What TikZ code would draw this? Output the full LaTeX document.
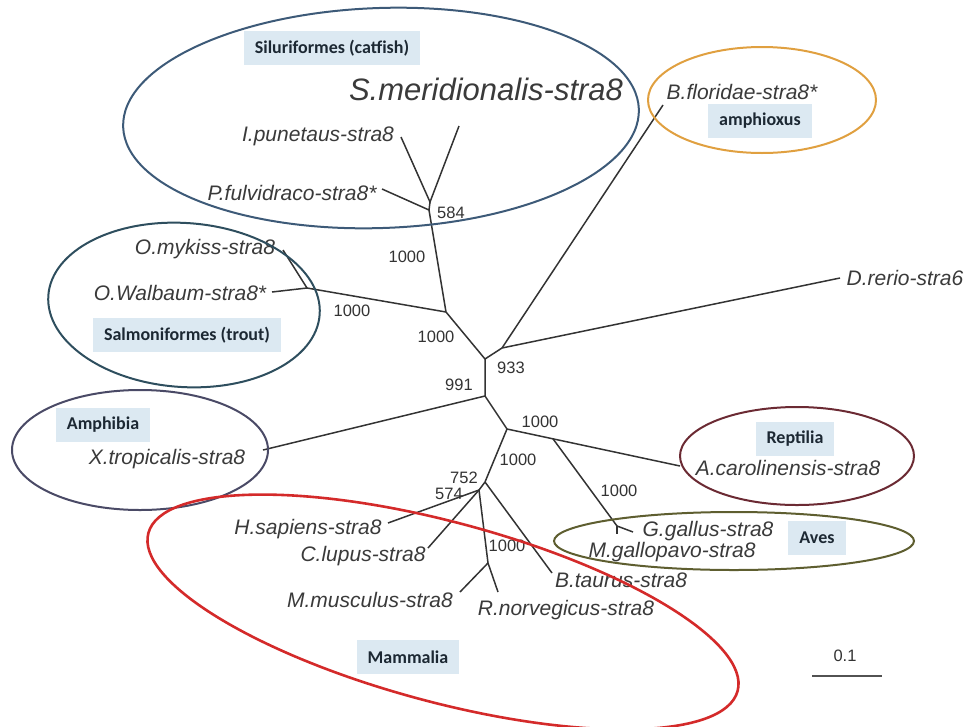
\documentclass[tikz,border=0pt]{standalone}
\usepackage{fontspec}
\setmainfont{Liberation Sans}
\newfontfamily\cladefont{Carlito}
\usetikzlibrary{calc}
\definecolor{ink}{HTML}{333333}
\definecolor{labink}{HTML}{3A3A3A}
\definecolor{cladefill}{HTML}{DCE9F2}
\definecolor{cladetext}{HTML}{1C2833}
\definecolor{catring}{HTML}{3D5A78}
\definecolor{salring}{HTML}{2E4E5E}
\definecolor{amphring}{HTML}{4A4A66}
\definecolor{lancring}{HTML}{E0A040}
\definecolor{reptring}{HTML}{6B2A33}
\definecolor{avesring}{HTML}{5E5E30}
\definecolor{mammring}{HTML}{D42A2A}
\begin{document}
\begin{tikzpicture}[x=1pt,y=-1pt,
  branch/.style={draw=ink, line width=1.5pt},
  taxon/.style={text=labink, font=\itshape\fontsize{21}{24}\selectfont, inner sep=0pt},
  bigtaxon/.style={text=labink, font=\itshape\fontsize{31}{34}\selectfont, inner sep=0pt},
  support/.style={text=ink, font=\fontsize{16.5}{18}\selectfont, inner sep=0pt},
  clade/.style={fill=cladefill, text=cladetext, font=\cladefont\bfseries\fontsize{18}{20}\selectfont, inner xsep=11pt, minimum height=34pt},
  ring/.style={line width=2pt}
]
\useasboundingbox (0,0) rectangle (969,726);

% clade name boxes
\node[clade] (lblcat) at (332,48) {Siluriformes (catfish)};
\node[clade] (lbllanc) at (760,121) {amphioxus};
\node[clade] (lblsal) at (187,335) {Salmoniformes (trout)};
\node[clade] (lblamph) at (103,425) {Amphibia};
\node[clade] (lblrept) at (795,439) {Reptilia};
\node[clade] (lblaves) at (817,538) {Aves};
\node[clade] (lblmamm) at (408,657) {Mammalia};

% tree nodes and tip ends
\coordinate (cA) at (430,202);
\coordinate (cB) at (429,210);
\coordinate (w) at (446,312);
\coordinate (s) at (307,288);
\coordinate (A) at (485,359);
\coordinate (B) at (502,348);
\coordinate (n991) at (485,396);
\coordinate (R) at (507,429);
\coordinate (m752) at (485,482);
\coordinate (m574) at (479,490);
\coordinate (rod) at (488,563);
\coordinate (F) at (617,526);

\coordinate (eipun) at (401,137);
\coordinate (esmer) at (459,126);
\coordinate (epful) at (382,189);
\coordinate (eomyk) at (283,250);
\coordinate (eowal) at (272,292);
\coordinate (ebflo) at (663,105);
\coordinate (edrer) at (840,278);
\coordinate (extro) at (263,450);
\coordinate (eacar) at (680,466);
\coordinate (eggal) at (633,532);
\coordinate (emgal) at (617,534);
\coordinate (ehsap) at (388,523);
\coordinate (eclup) at (428,548);
\coordinate (emmus) at (460,592);
\coordinate (ernor) at (498,592);
\coordinate (ebtau) at (552,573);
\coordinate (av) at ($(R)!0.266!(eacar)$);

% branches
\draw[branch] (eipun) -- (cA) -- (esmer);
\draw[branch] (cA) -- (cB) -- (w);
\draw[branch] (epful) -- (cB);
\draw[branch] (eomyk) -- (s);
\draw[branch] (eowal) -- (s) -- (w);
\draw[branch] (w) -- (A) -- (n991);
\draw[branch] (A) -- (B);
\draw[branch] (B) -- (ebflo);
\draw[branch] (B) -- (edrer);
\draw[branch] (n991) -- (extro);
\draw[branch] (n991) -- (R) -- (eacar);
\draw[branch] (av) -- (F);
\draw[branch] (F) -- (eggal);
\draw[branch] (F) -- (emgal);
\draw[branch] (R) -- (m752) -- (m574);
\draw[branch] (m752) -- (ebtau);
\draw[branch] (m574) -- (ehsap);
\draw[branch] (m574) -- (eclup);
\draw[branch] (m574) -- (rod);
\draw[branch] (rod) -- (emmus);
\draw[branch] (rod) -- (ernor);

% taxon labels
\node[bigtaxon] (smer) at (486,89) {S.meridionalis-stra8};
\node[taxon] (ipun) at (318,136) {I.punetaus-stra8};
\node[taxon] (pful) at (292,193) {P.fulvidraco-stra8*};
\node[taxon] (omyk) at (205,249) {O.mykiss-stra8};
\node[taxon] (owal) at (180,293) {O.Walbaum-stra8*};
\node[taxon] (bflo) at (742,92) {B.floridae-stra8*};
\node[taxon] (drer) at (905,278) {D.rerio-stra6};
\node[taxon] (xtro) at (167,459) {X.tropicalis-stra8};
\node[taxon] (acar) at (788,468) {A.carolinensis-stra8};
\node[taxon] (ggal) at (708,531) {G.gallus-stra8};
\node[taxon] (mgal) at (672,552) {M.gallopavo-stra8};
\node[taxon] (hsap) at (308,529) {H.sapiens-stra8};
\node[taxon] (clup) at (363,556) {C.lupus-stra8};
\node[taxon] (mmus) at (370,600) {M.musculus-stra8};
\node[taxon] (rnor) at (566,610) {R.norvegicus-stra8};
\node[taxon] (btau) at (621,580) {B.taurus-stra8};

% bootstrap support values
\node[support] (b584) at (451,213) {584};
\node[support] (b1000a) at (407,257) {1000};
\node[support] (b1000b) at (352,311) {1000};
\node[support] (b1000c) at (436,337) {1000};
\node[support] (b933) at (511,368) {933};
\node[support] (b991) at (459,385) {991};
\node[support] (b1000d) at (540,422) {1000};
\node[support] (b1000e) at (518,460) {1000};
\node[support] (b752) at (464,478) {752};
\node[support] (b574) at (449,494) {574};
\node[support] (b1000f) at (507,546) {1000};
\node[support] (b1000g) at (619,491) {1000};

% scale bar
\coordinate (sbL) at (812,676);
\coordinate (sbR) at (882,676);
\draw[draw=ink!85, line width=2pt] (sbL) -- (sbR);
\node[support] (sblbl) at (845,656) {0.1};

% clade rings
\draw[ring, draw=catring, rotate around={2:(381,118)}] (381,118) ellipse [x radius=258pt, y radius=110pt];
\draw[ring, draw=salring, rotate around={-4:(184,305)}] (184,305) ellipse [x radius=136pt, y radius=82pt];
\draw[ring, draw=amphring] (140,450) ellipse [x radius=128pt, y radius=60pt];
\draw[ring, draw=lancring] (762,100) ellipse [x radius=114pt, y radius=53pt];
\draw[ring, draw=reptring] (797,456) ellipse [x radius=117pt, y radius=49pt];
\draw[ring, draw=avesring] (734,541) ellipse [x radius=180pt, y radius=29pt];
\draw[ring, draw=mammring, line width=2.6pt, rotate around={-15:(443,612)}] (443,612) ellipse [x radius=305pt, y radius=90pt];
\end{tikzpicture}
\end{document}
